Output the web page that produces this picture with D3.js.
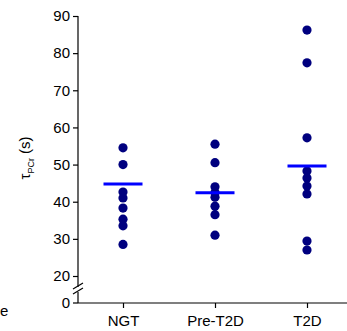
<!DOCTYPE html>
<html>
<head>
<meta charset="utf-8">
<script src="https://cdn.jsdelivr.net/npm/d3@7/dist/d3.min.js"></script>
<style>
  body { margin: 0; background: #fff; }
  svg { display: block; font-family: "Liberation Sans", Arial, sans-serif; }
  .axis path, .axis line { stroke: #000; stroke-width: 1.2; }
  .axis text { font-size: 15px; fill: #000; }
</style>
</head>
<body>
<div id="chart"></div>
<script>
const groups = ['NGT', 'Pre-T2D', 'T2D'];
const ngt = [54.5, 50, 42.6, 41, 38.3, 35.3, 33.5, 28.5];
const preT2d = [55.5, 50.5, 44, 42.5, 41.2, 38.8, 36.5, 31];
const t2d = [86.2, 77.4, 57.2, 48.3, 46.4, 44.2, 42.1, 29.4, 27];
const means = [44.8, 42.4, 49.6];
const yTicks = [20, 30, 40, 50, 60, 70, 80, 90];

const width = 347, height = 331;
const svg = d3.select('#chart').append('svg')
  .attr('width', width)
  .attr('height', height);

const x = d3.scalePoint()
  .domain(groups)
  .range([77, 353])
  .padding(0.5);

const y = d3.scaleLinear()
  .domain([20, 90])
  .range([276, 16]);

const axisX = 78;
const baseY = 303;

// y axis above the break
svg.append('g')
  .attr('class', 'axis')
  .attr('transform', 'translate(' + axisX + ',0)')
  .call(d3.axisLeft(y).tickValues(yTicks).tickSize(5).tickSizeOuter(0).tickPadding(3))
  .select('.domain').remove();

svg.append('line')
  .attr('x1', axisX).attr('x2', axisX)
  .attr('y1', y(90)).attr('y2', 287)
  .attr('stroke', '#000').attr('stroke-width', 1.2);
svg.append('line')
  .attr('x1', axisX).attr('x2', axisX)
  .attr('y1', 292).attr('y2', baseY)
  .attr('stroke', '#000').attr('stroke-width', 1.2);

// break marks
[286, 291].forEach(function (yy) {
  svg.append('line')
    .attr('x1', axisX - 5).attr('y1', yy + 3)
    .attr('x2', axisX + 5).attr('y2', yy - 3)
    .attr('stroke', '#000').attr('stroke-width', 1.1);
});

// zero tick
svg.append('line')
  .attr('x1', axisX - 5).attr('x2', axisX)
  .attr('y1', baseY).attr('y2', baseY)
  .attr('stroke', '#000').attr('stroke-width', 1.2);
svg.append('text')
  .attr('x', axisX - 8).attr('y', baseY).attr('dy', '0.32em')
  .attr('text-anchor', 'end')
  .style('font-size', '15px')
  .text('0');

// x axis
const gx = svg.append('g')
  .attr('class', 'axis')
  .attr('transform', 'translate(0,' + baseY + ')')
  .call(d3.axisBottom(x).tickSize(5).tickSizeOuter(0).tickPadding(7));
gx.select('.domain').attr('d', 'M' + axisX + ',0H' + width);

// y label
const yl = svg.append('text')
  .attr('transform', 'translate(30,158) rotate(-90)')
  .attr('text-anchor', 'middle')
  .style('font-size', '15px');
yl.append('tspan').text('τ');
yl.append('tspan').attr('dy', 4).style('font-size', '9px').text('PCr');
yl.append('tspan').attr('dy', -4).text(' (s)');

// cropped neighbour text at bottom left
svg.append('text')
  .attr('x', 0).attr('y', 316)
  .style('font-size', '15px')
  .text('e');

// points
const series = [ngt, preT2d, t2d];
series.forEach(function (vals, i) {
  svg.append('g').selectAll('circle')
    .data(vals)
    .enter()
    .append('circle')
    .attr('cx', x(groups[i]))
    .attr('cy', d => y(d))
    .attr('r', 4.6)
    .attr('fill', '#00007f');
});

// mean lines
svg.append('g').selectAll('line')
  .data(means)
  .enter()
  .append('line')
  .attr('x1', (d, i) => x(groups[i]) - 19.5)
  .attr('x2', (d, i) => x(groups[i]) + 19.5)
  .attr('y1', d => y(d))
  .attr('y2', d => y(d))
  .attr('stroke', '#0000ff')
  .attr('stroke-width', 3);
</script>
</body>
</html>
